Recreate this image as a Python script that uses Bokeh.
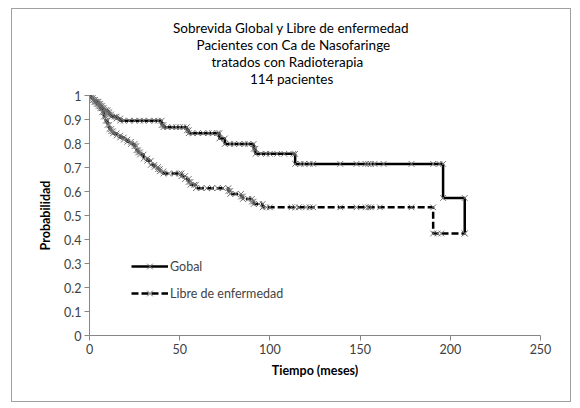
from bokeh.plotting import figure
from bokeh.models import (Range1d, FixedTicker, NumeralTickFormatter,
                          Legend, LegendItem, Title)
from bokeh.embed import file_html
from bokeh.resources import INLINE

gl_time = [0, 1, 2, 3, 4, 5, 6, 7, 8, 9, 10, 11, 12, 14, 15, 17,
           19, 22, 25, 28, 30, 33, 36, 38, 40, 41, 43, 46, 48, 50, 52,
           54, 55, 57, 60, 63, 66, 68, 71, 72, 75, 78, 80, 83, 86, 88,
           91, 92, 95, 98, 100, 104, 108, 113, 114, 117, 119, 122, 124,
           139, 148, 153, 154.5, 156, 158, 163, 178.5, 190.5, 194, 196, 208]
gl_surv = [1.0, 0.991, 0.982, 0.974, 0.974, 0.965, 0.956, 0.947, 0.939,
           0.939, 0.930, 0.921, 0.912, 0.912, 0.904, 0.895,
           0.895, 0.895, 0.895, 0.895, 0.895, 0.895, 0.895, 0.895,
           0.877, 0.868, 0.868, 0.868, 0.868, 0.868, 0.868,
           0.855, 0.843, 0.843, 0.843, 0.843, 0.843, 0.843, 0.843,
           0.821, 0.798, 0.798, 0.798, 0.798, 0.798, 0.798,
           0.778, 0.757, 0.757, 0.757, 0.757, 0.757, 0.757, 0.757,
           0.715, 0.715, 0.715, 0.715, 0.715, 0.715, 0.715, 0.715,
           0.715, 0.715, 0.715, 0.715, 0.715, 0.715, 0.715, 0.573, 0.425]

df_time = [0, 1, 2, 3, 4, 5, 6, 7, 8, 9, 10, 11, 12, 13, 15, 17, 19, 21,
           23, 25, 26, 27, 28, 30, 32, 34, 36, 38, 39, 41, 44, 47, 50,
           51, 53, 55, 56, 58, 59, 62, 65, 68, 71, 74, 77, 78, 81, 84, 85,
           88, 90, 91, 94, 96, 98, 100, 112, 114, 116, 120, 122, 124,
           139, 148, 153, 154.5, 156, 161, 178.5, 190.5, 193, 195, 208]
df_surv = [1.0, 0.991, 0.982, 0.974, 0.965, 0.956, 0.947, 0.930, 0.912,
           0.895, 0.877, 0.860, 0.851, 0.842, 0.833, 0.825, 0.816, 0.807,
           0.798, 0.789, 0.772, 0.763, 0.754, 0.737, 0.728, 0.711, 0.702,
           0.693, 0.684, 0.675, 0.675, 0.675, 0.675,
           0.664, 0.652, 0.640, 0.628, 0.628, 0.614, 0.614, 0.614, 0.614,
           0.614, 0.614, 0.602, 0.590, 0.590, 0.579, 0.569,
           0.569, 0.558, 0.548, 0.548, 0.534, 0.534, 0.534, 0.534, 0.534,
           0.534, 0.534, 0.534, 0.534, 0.534, 0.534, 0.534, 0.534, 0.534,
           0.534, 0.534, 0.425, 0.425, 0.425, 0.425]

x_ticks = [0, 50, 100, 150, 200, 250]
y_ticks = [0, 0.1, 0.2, 0.3, 0.4, 0.5, 0.6, 0.7, 0.8, 0.9, 1]

title_lines = ["Sobrevida Global y Libre de enfermedad",
               "Pacientes con Ca de Nasofaringe",
               "tratados con Radioterapia",
               "114 pacientes"]


def km_vertices(times, surv):
    # Excel-style step: repeat the time with the previous value at each drop
    xs, ys = [times[0]], [surv[0]]
    for i in range(1, len(times)):
        if surv[i] != surv[i - 1]:
            xs.append(times[i])
            ys.append(surv[i - 1])
        xs.append(times[i])
        ys.append(surv[i])
    return xs, ys


FONT = "Lato"
AXIS_GREY = "#868686"

p = figure(frame_width=451, frame_height=240,
           x_range=Range1d(0, 250), y_range=Range1d(0, 1),
           min_border_left=77, min_border_right=30,
           min_border_top=86, min_border_bottom=66,
           output_backend="svg", toolbar_location=None)
p.margin = (8, 0, 0, 11)
p.styles = {"border": "1px solid #a0a0a0"}
p.outline_line_color = None
p.xgrid.visible = False
p.ygrid.visible = False

p.xaxis.ticker = FixedTicker(ticks=x_ticks)
p.yaxis.ticker = FixedTicker(ticks=y_ticks)
p.yaxis.formatter = NumeralTickFormatter(format="0.[0]")
p.xaxis.axis_label = "Tiempo (meses)"
p.yaxis.axis_label = "Probabilidad"
for ax in (p.xaxis, p.yaxis):
    ax.axis_line_color = AXIS_GREY
    ax.major_tick_line_color = AXIS_GREY
    ax.major_tick_out = 5
    ax.major_tick_in = 0
    ax.minor_tick_line_color = None
    ax.major_label_text_font = FONT
    ax.major_label_text_font_size = "12.5px"
    ax.major_label_text_color = "#404040"
    ax.axis_label_text_font = FONT
    ax.axis_label_text_font_size = "12.5px"
    ax.axis_label_text_font_style = "bold"
    ax.axis_label_text_color = "#000000"
p.xaxis.major_label_standoff = 3
p.xaxis.axis_label_standoff = 6
p.yaxis.major_label_standoff = 3
p.yaxis.axis_label_standoff = 8

gx, gy = km_vertices(gl_time, gl_surv)
dx, dy = km_vertices(df_time, df_surv)

g_line = p.line(gx, gy, line_color="black", line_width=2.5)
g_mark = p.scatter(gx, gy, marker="x", size=8, line_color="#6e6e6e", line_width=1)
d_line = p.line(dx, dy, line_color="black", line_width=2.5, line_dash="7 3")
d_mark = p.scatter(dx, dy, marker="x", size=8, line_color="#6e6e6e", line_width=1)

legend = Legend(items=[LegendItem(label="Gobal", renderers=[g_line, g_mark]),
                       LegendItem(label="Libre de enfermedad", renderers=[d_line, d_mark])],
                location=(42, 32), padding=0, margin=0, spacing=7,
                glyph_width=37, glyph_height=20, label_height=20,
                label_standoff=2, border_line_color=None,
                background_fill_alpha=0)
legend.label_text_font = FONT
legend.label_text_font_size = "12.5px"
p.add_layout(legend)

# a thin spacer panel keeps the title block clear of the plot area
p.add_layout(Title(text=" ", text_font_size="1px", standoff=6), "above")

# title: one Title per line, stacked upwards from the frame (last line first);
# left offsets put each line's centre at the middle of the chart area
title_offsets = [83.5, 107, 122, 160.5]
for line, off in reversed(list(zip(title_lines, title_offsets))):
    p.add_layout(Title(text=line, align="left", offset=off, standoff=-1.3,
                       text_font=FONT, text_font_size="13.5px",
                       text_line_height=1.0, text_font_style="normal",
                       text_color="black"), "above")

open("out.html", "w").write(file_html(p, INLINE))
